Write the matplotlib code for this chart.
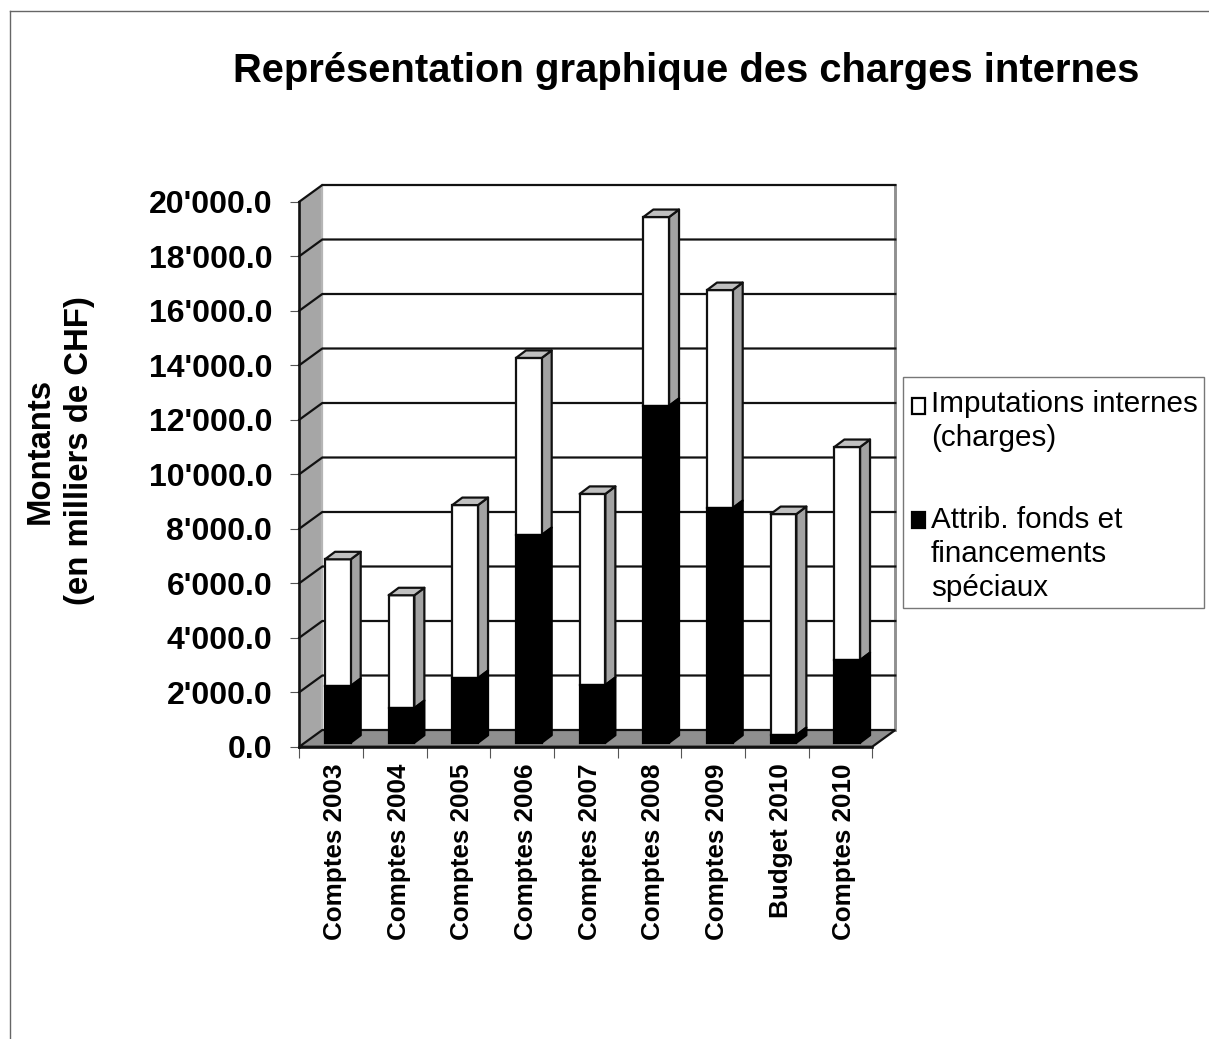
import matplotlib
matplotlib.use("Agg")
import matplotlib.pyplot as plt
from matplotlib.lines import Line2D
from matplotlib.patches import Patch, Rectangle

plt.rcParams["font.family"] = ["Liberation Sans", "DejaVu Sans"]

categories = ["Comptes 2003", "Comptes 2004", "Comptes 2005", "Comptes 2006", "Comptes 2007",
              "Comptes 2008", "Comptes 2009", "Budget 2010", "Comptes 2010"]
attrib = [2080, 1270, 2370, 7620, 2120, 12360, 8610, 280, 3030]
imput = [4650, 4140, 6350, 6500, 7010, 6930, 8000, 8110, 7820]
yticks = list(range(0, 20001, 2000))
ytick_labels = [f"{v // 1000}'000.0" if v else "0.0" for v in yticks]

W, H = 1209, 1039
X0, X1, Y0, Y1 = 299.3, 872.3, 746.7, 201.7
PX_X = (X1 - X0) / 9  # pixels per category
PX_Y = (Y0 - Y1) / 20000  # pixels per value unit

# fake 3d depth, pixels turned into data units
WALL_DX = 23 / PX_X
WALL_DY = 16.7 / PX_Y
BAR_DX = 10 / PX_X
BAR_DY = 7.5 / PX_Y
BAR_LIFT = 4 / PX_Y
BAR_W = 25.7 / PX_X
BAR_OFF = 25.7 / PX_X

WALL = "#a6a6a6"
FLOOR = "#8f8f8f"
SIDE = "#a3a3a3"
TOP = "#c0c0c0"
LINE = "#111111"
LW = 1.6

fig = plt.figure(figsize=(W / 100, H / 100), dpi=100)
ax = fig.add_axes([X0 / W, 1 - Y0 / H, (X1 - X0) / W, (Y0 - Y1) / H])
ax.set_xlim(0, 9)
ax.set_ylim(0, 20000)
ax.patch.set_visible(False)

# walls and floor
n = len(categories)
ax.fill([0, WALL_DX, WALL_DX, 0], [0, WALL_DY, 20000 + WALL_DY, 20000], fc=WALL, ec="none", clip_on=False, zorder=1)
ax.fill([0, n, n + WALL_DX, WALL_DX], [0, 0, WALL_DY, WALL_DY], fc=FLOOR, ec=LINE, lw=LW, clip_on=False, zorder=1.5)
ax.plot([n + WALL_DX] * 2, [WALL_DY, 20000 + WALL_DY], color="#909090", lw=LW + 0.5, clip_on=False, zorder=1)
ax.plot([WALL_DX] * 2, [WALL_DY, 20000 + WALL_DY], color="#b5b5b5", lw=LW, clip_on=False, zorder=1)

# gridlines go around the left wall
for v in yticks[1:]:
    ax.plot([0, WALL_DX, n + WALL_DX], [v, v + WALL_DY, v + WALL_DY], color=LINE, lw=LW, clip_on=False, zorder=2,
            solid_joinstyle="miter")


def draw_bar(i, bottom, height, face, side, edge, z):
    left = i + BAR_OFF
    base = bottom + BAR_LIFT
    top = base + height
    right = left + BAR_W
    ax.bar(left, height, BAR_W, bottom=base, align="edge", fc=face, ec=edge, lw=LW, clip_on=False, zorder=z + 0.1)
    ax.fill([right, right + BAR_DX, right + BAR_DX, right], [base, base + BAR_DY, top + BAR_DY, top],
            fc=side, ec=edge, lw=LW, clip_on=False, zorder=z, joinstyle="round")


for i in range(n):
    z = 3 + i
    draw_bar(i, attrib[i], imput[i], "white", SIDE, LINE, z)
    draw_bar(i, 0, attrib[i], "black", "black", "black", z + 0.2)
    left = i + BAR_OFF
    top = BAR_LIFT + attrib[i] + imput[i]
    ax.fill([left, left + BAR_DX, left + BAR_W + BAR_DX, left + BAR_W],
            [top, top + BAR_DY, top + BAR_DY, top], fc=TOP, ec=LINE, lw=LW, clip_on=False, zorder=z + 0.25,
            joinstyle="round")

# axes
for name in ("top", "right"):
    ax.spines[name].set_visible(False)
for name in ("left", "bottom"):
    ax.spines[name].set_linewidth(LW + 0.3)
    ax.spines[name].set_color(LINE)
    ax.spines[name].set_zorder(30)

ax.set_yticks(yticks, ytick_labels, fontsize=23, fontweight="bold")
ax.tick_params(axis="y", length=6.5, width=0.8, color="#555555", pad=13)
ax.set_xticks(range(n + 1), [""] * (n + 1))
ax.tick_params(axis="x", which="major", length=8, width=0.8, color="#555555")
ax.set_xticks([i + 0.56 for i in range(n)], categories, minor=True, rotation=90, fontsize=18.7, fontweight="bold")
ax.tick_params(axis="x", which="minor", length=0, pad=12)

fig.text(686 / W, 1 - 71 / H, "Représentation graphique des charges internes", fontsize=28.8, fontweight="bold",
         ha="center", va="center")
fig.text(60 / W, 1 - 451 / H, "Montants\n(en milliers de CHF)", fontsize=23.7, fontweight="bold", rotation=90,
         ha="center", va="center", linespacing=1.35, multialignment="center")

# legend box is drawn apart, its padding is not even on all sides
fig.add_artist(Rectangle((903 / W, 1 - 608 / H), 301 / W, 231 / H, transform=fig.transFigure, fc="white",
                         ec="#777777", lw=1, zorder=39))
handles = [Patch(fc="white", ec="black", lw=1.6), Patch(fc="black", ec="black", lw=1.6)]
labels = ["Imputations internes\n(charges)", "Attrib. fonds et\nfinancements\nspéciaux"]
leg = fig.legend(handles, labels, loc="upper left", bbox_to_anchor=(903 / W, 1 - 381 / H), borderaxespad=0,
                 fontsize=21.3, frameon=False, handlelength=0.45, handleheight=0.45, handletextpad=0.2,
                 labelspacing=1.84, borderpad=0.3)
leg.set_zorder(40)
for t in leg.get_texts():
    t.set_linespacing(1.27)
# handles sit level with the first line of each entry
for h, shift in zip(leg.legend_handles, (11.2, 25)):
    h.set_y(h.get_y() + shift)

# page border from the source document
fig.add_artist(Line2D([10 / W, 1], [1 - 11 / H, 1 - 11 / H], color="#666666", lw=1))
fig.add_artist(Line2D([10 / W, 10 / W], [0, 1 - 11 / H], color="#666666", lw=1))

fig.savefig("out.png", dpi=100)
